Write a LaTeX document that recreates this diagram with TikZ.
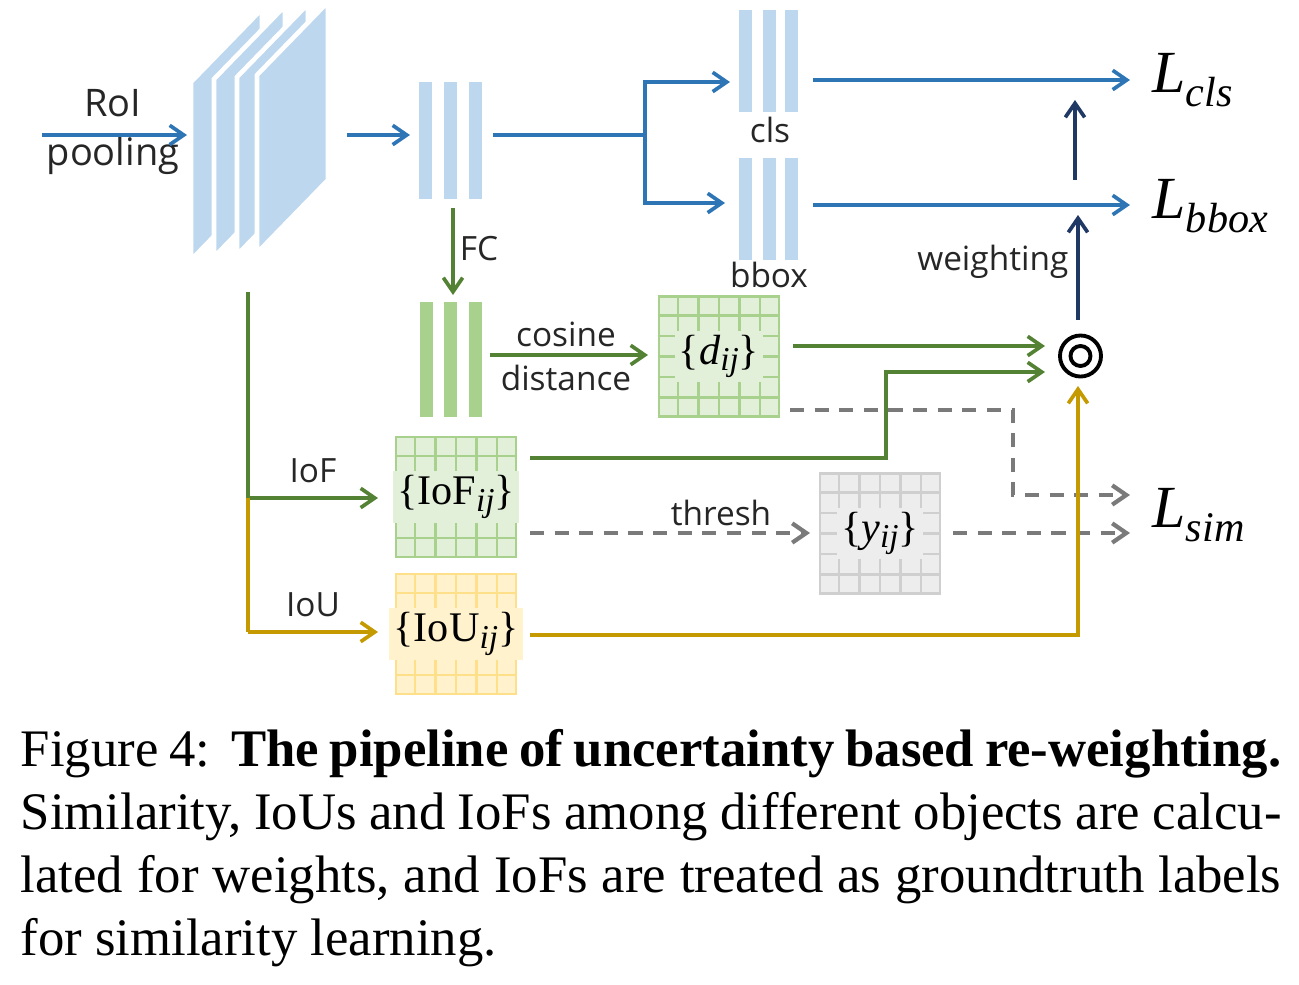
\documentclass[tikz,border=0pt]{standalone}
\usepackage{fontspec}
\setmainfont{Liberation Serif}
\newfontfamily\labelfont{Open Sans}
\usetikzlibrary{arrows.meta,calc}
\definecolor{cblue}{HTML}{2E75B6}
\definecolor{cbluef}{HTML}{BDD7EE}
\definecolor{cgreen}{HTML}{548235}
\definecolor{cgreenf}{HTML}{A9D18E}
\definecolor{cgreenl}{HTML}{E2F0D9}
\definecolor{cgold}{HTML}{C49A00}
\definecolor{cyel}{HTML}{FFF2CC}
\definecolor{cyell}{HTML}{FFE08A}
\definecolor{cgray}{HTML}{7A7A7A}
\definecolor{cgrayf}{HTML}{EDEDED}
\definecolor{cgrayl}{HTML}{CFCFCF}
\definecolor{cnavy}{HTML}{1F3864}
\newcommand\simgrid[6]{%
  \node[draw=#5, fill=#4, line width=0.7pt, minimum width=1.2cm, minimum height=1.2cm, inner sep=0pt] (#1) at (#2,#3) {};
  \foreach \i in {1,...,5} {
    \draw[#5, line width=0.7pt] ($(#1.south west)!\i/6!(#1.south east)$) -- ($(#1.north west)!\i/6!(#1.north east)$);
    \draw[#5, line width=0.7pt] ($(#1.south west)!\i/6!(#1.north west)$) -- ($(#1.south east)!\i/6!(#1.north east)$);
  }
  \node[fill=#4, inner sep=1.2pt, font=\fontsize{12}{14}\selectfont] (#1t) at (#1.center) {#6};
}
\newcommand\sub[1]{\raisebox{-0.35ex}{\fontsize{9.5}{9.5}\selectfont\textit{#1}}}
\newcommand\lossL[1]{{\fontsize{17}{20}\selectfont\textit{L}\raisebox{-0.5ex}{\fontsize{12}{12}\selectfont\textit{#1}}}}
\tikzset{
  lbl/.style={font=\labelfont\fontsize{9.5}{12}\selectfont, inner sep=0pt, text=black!85},
  biglbl/.style={lbl, font=\labelfont\fontsize{10.8}{12}\selectfont},
  ln/.style={line width=1.05pt},
  tip/.style={-{Straight Barb[length=4pt,width=5.5pt]}},
  bluel/.style={ln, draw=cblue},
  bluea/.style={ln, draw=cblue, tip},
  navya/.style={ln, draw=cnavy, tip},
  greenl/.style={ln, draw=cgreen},
  greena/.style={ln, draw=cgreen, tip},
  golda/.style={ln, draw=cgold, tip},
  goldl/.style={ln, draw=cgold},
  graya/.style={line width=1.2pt, draw=cgray, dash pattern=on 4pt off 3pt, tip},
  sheet/.style={fill=cbluef, draw=white, line width=1.3pt},
}
\begin{document}
\begin{tikzpicture}[x=0.01cm,y=-0.01cm]
\useasboundingbox (0,0) rectangle (1299,984);
% feature maps
\foreach \L/\T in {191/82,214/79,237/77,257/75}
  \path[sheet] (\L,\T) -- ++(71,-73) -- ++(0,178) -- ++(-71,73) -- cycle;
% bar groups
\foreach \x in {419,444,469} \fill[cbluef] (\x,82) rectangle ++(13,117);
\foreach \x in {739,763,785} \fill[cbluef] (\x,10) rectangle ++(13,102);
\foreach \x in {739,763,785} \fill[cbluef] (\x,158) rectangle ++(13,102);
\foreach \x in {420,444,469} \fill[cgreenf] (\x,302) rectangle ++(13,115);
% grids
\simgrid{dg}{719}{356.5}{cgreenl}{cgreenf}{\{\textit{d}\sub{ij}\}}
\simgrid{iofg}{456}{497}{cgreenl}{cgreenf}{\{IoF\sub{ij}\}}
\simgrid{ioug}{456}{634}{cyel}{cyell}{\{IoU\sub{ij}\}}
\simgrid{yg}{880}{533.5}{cgrayf}{cgrayl}{\{\textit{y}\sub{ij}\}}
% odot
\node[circle, draw, line width=1.1pt, minimum size=0.41cm, inner sep=0pt] (od) at (1080.5,356) {};
\node[circle, draw, line width=1.1pt, minimum size=0.2cm, inner sep=0pt] (odi) at (od.center) {};
% labels
\node[biglbl] (roi) at (113,103) {RoI};
\node[biglbl] (pool) at (113,156) {pooling};
\node[lbl] (cls) at (770,130) {cls};
\node[lbl] (bbox) at (769,275) {bbox};
\node[lbl] (fc) at (479,249) {FC};
\node[lbl] (cos) at (566,334) {cosine};
\node[lbl] (dist) at (566,378) {distance};
\node[lbl] (iof) at (313,471) {IoF};
\node[lbl] (iou) at (313,605) {IoU};
\node[lbl] (thr) at (721,513) {thresh};
\node[lbl, anchor=east] (wt) at (1069,262) {weighting};
\node[inner sep=0pt, anchor=west] (lcls) at (1152,80) {\lossL{cls}};
\node[inner sep=0pt, anchor=west] (lbbox) at (1152,206) {\lossL{bbox}};
\node[inner sep=0pt, anchor=west] (lsim) at (1152,515) {\lossL{sim}};
% coordinates
\coordinate (roiA) at (42,135); \coordinate (roiB) at (187,135);
\coordinate (fmO) at (347,135); \coordinate (fcI) at (410,135);
\coordinate (fcO) at (493,135); \coordinate (jn) at (645,135);
\coordinate (clsI) at (730,82); \coordinate (bbI) at (725,203);
\coordinate (clsO) at (813,80); \coordinate (lclsI) at (1130,80);
\coordinate (bbO) at (813,205); \coordinate (lbbI) at (1130,205);
\coordinate (up1a) at (1075,180); \coordinate (up1b) at (1075,100);
\coordinate (up2a) at (1078,320); \coordinate (up2b) at (1078,215);
\coordinate (fcd) at (453,208); \coordinate (gI) at (453,295);
\coordinate (cosA) at (490,355); \coordinate (cosB) at (648,355);
\coordinate (dO) at (793,346); \coordinate (odI1) at (1045,346);
\coordinate (iofO) at (530,458); \coordinate (kk) at (886,458); \coordinate (odI2) at (1045,372);
\coordinate (dgO) at (790,410); \coordinate (dk) at (1013,410); \coordinate (lsI1) at (1130,495);
\coordinate (iofO2) at (530,533); \coordinate (yI) at (810,533);
\coordinate (yO) at (953,533); \coordinate (lsI2) at (1130,533);
\coordinate (iouO) at (530,635); \coordinate (gk) at (1078,635); \coordinate (odI3) at (1078,386);
\coordinate (vt) at (248,292); \coordinate (vm) at (248,498); \coordinate (vb) at (248,632);
\coordinate (iofI) at (378,498); \coordinate (iouI) at (378,632);
% connectors
\draw[bluea] (roiA) -- (roiB);
\draw[bluea] (fmO) -- (fcI);
\draw[bluel] (fcO) -- (jn);
\draw[bluea] (jn) |- (clsI);
\draw[bluea] (jn) |- (bbI);
\draw[bluea] (clsO) -- (lclsI);
\draw[bluea] (bbO) -- (lbbI);
\draw[navya] (up1a) -- (up1b);
\draw[navya] (up2a) -- (up2b);
\draw[greena] (fcd) -- (gI);
\draw[greena] (cosA) -- (cosB);
\draw[greena] (dO) -- (odI1);
\draw[greena] (iofO) -- (kk) |- (odI2);
\draw[graya] (dgO) -- (dk) |- (lsI1);
\draw[graya] (iofO2) -- (yI);
\draw[graya] (yO) -- (lsI2);
\draw[golda] (iouO) -- (gk) -- (odI3);
\draw[greenl] (vt) -- (vm);
\draw[greena] (vm) -- (iofI);
\draw[goldl] (vm) -- (vb);
\draw[golda] (vb) -- (iouI);
% caption
\node[anchor=north west, text width=12.6cm, align=justify, inner sep=0pt,
      font=\fontsize{15}{17.9}\selectfont] (cap) at (20,729)
 {Figure 4:\hspace{0.4em}\textbf{The pipeline of uncertainty based re-weighting.}\linebreak
  Similarity, IoUs and IoFs among different objects are calcu-\linebreak
  lated for weights, and IoFs are treated as groundtruth labels\linebreak
  for similarity learning.};
\end{tikzpicture}
\end{document}
